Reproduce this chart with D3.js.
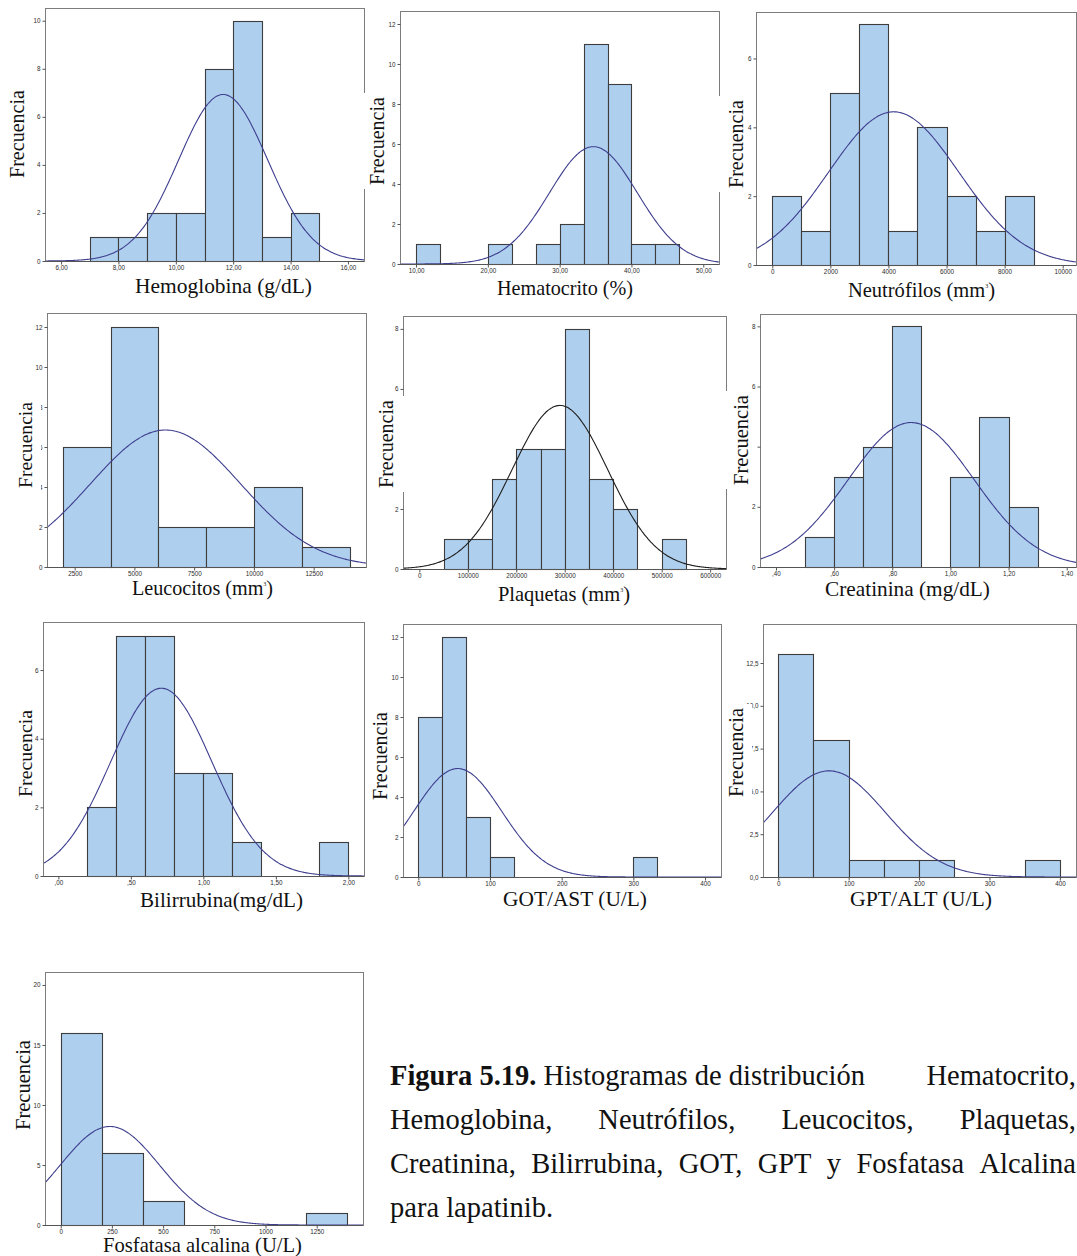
<!DOCTYPE html>
<html><head><meta charset="utf-8">
<script src="https://cdn.jsdelivr.net/npm/d3@7/dist/d3.min.js"></script>
<style>body{margin:0;background:#fff}svg{display:block}</style>
</head><body>
<svg id="c" width="1077" height="1256"></svg>
<script>
// ================= DATA =================
const axisTitles = ["Hemoglobina (g/dL)", "Hematocrito (%)", "Neutrófilos (mm", "Leucocitos (mm", "Plaquetas (mm",
  "Creatinina (mg/dL)", "Bilirrubina(mg/dL)", "GOT/AST (U/L)", "GPT/ALT (U/L)", "Fosfatasa alcalina (U/L)"];
const yTitle = "Frecuencia";

// histogram bins: first bin start, bin width, counts per bin (zero = empty bin)
const binStarts = [7, 10, 0, 2000, 50000, 0.5, 0.2, 0, 0, 0];
const binWidths = [1, 3.3333, 1000, 2000, 50000, 0.1, 0.2, 33.333, 50, 200];
const hemoglobinaCounts = [1, 1, 2, 2, 8, 10, 1, 2];
const hematocritoCounts = [1, 0, 0, 1, 0, 1, 2, 11, 9, 1, 1];
const neutrofilosCounts = [2, 1, 5, 7, 1, 4, 2, 1, 2];
const leucocitosCounts = [6, 12, 2, 2, 4, 1];
const plaquetasCounts = [1, 1, 3, 4, 4, 8, 3, 2, 0, 1];
const creatininaCounts = [1, 3, 4, 8, 0, 3, 5, 2];
const bilirrubinaCounts = [2, 7, 7, 3, 3, 1, 0, 0, 1];
const gotCounts = [8, 12, 3, 1, 0, 0, 0, 0, 0, 1];
const gptCounts = [13, 8, 1, 1, 1, 0, 0, 1];
const fosfatasaCounts = [16, 6, 2, 0, 0, 0, 1];

// fitted normal curves (mean, sd)
const curveMeans = [11.65, 34.7, 4180, 6300, 290000, 0.865, 0.71, 55, 72, 240];
const curveSDs = [1.554, 6.12, 2241, 3145, 98800, 0.216, 0.35, 61.3, 80.4, 243];

// ticks
const hbXTicks = [6, 8, 10, 12, 14, 16], hbXLabels = ["6,00", "8,00", "10,00", "12,00", "14,00", "16,00"];
const htXTicks = [10, 20, 30, 40, 50], htXLabels = ["10,00", "20,00", "30,00", "40,00", "50,00"];
const neXTicks = [0, 2000, 4000, 6000, 8000, 10000], neXLabels = ["0", "2000", "4000", "6000", "8000", "10000"];
const leXTicks = [2500, 5000, 7500, 10000, 12500], leXLabels = ["2500", "5000", "7500", "10000", "12500"];
const plXTicks = [0, 100000, 200000, 300000, 400000, 500000, 600000], plXLabels = ["0", "100000", "200000", "300000", "400000", "500000", "600000"];
const crXTicks = [0.4, 0.6, 0.8, 1.0, 1.2, 1.4], crXLabels = [",40", ",60", ",80", "1,00", "1,20", "1,40"];
const biXTicks = [0, 0.5, 1, 1.5, 2], biXLabels = [",00", ",50", "1,00", "1,50", "2,00"];
const goXTicks = [0, 100, 200, 300, 400], goXLabels = ["0", "100", "200", "300", "400"];
const gpXTicks = [0, 100, 200, 300, 400], gpXLabels = ["0", "100", "200", "300", "400"];
const foXTicks = [0, 250, 500, 750, 1000, 1250], foXLabels = ["0", "250", "500", "750", "1000", "1250"];

const yTicks0to10 = [0, 2, 4, 6, 8, 10], yLabels0to10 = ["0", "2", "4", "6", "8", "10"];
const yTicks0to12 = [0, 2, 4, 6, 8, 10, 12], yLabels0to12 = ["0", "2", "4", "6", "8", "10", "12"];
const yTicks0to6 = [0, 2, 4, 6], yLabels0to6 = ["0", "2", "4", "6"];
const yTicks0to8 = [0, 2, 4, 6, 8], yLabels0to8 = ["0", "2", "4", "6", "8"];
const gpYTicks = [0, 2.5, 5, 7.5, 10, 12.5], gpYLabels = ["0,0", "2,5", "5,0", "7,5", "10,0", "12,5"];
const foYTicks = [0, 5, 10, 15, 20], foYLabels = ["0", "5", "10", "15", "20"];

const captionLine1Bold = "Figura 5.19.";
const captionLine1Rest = "Histogramas de distribución";
const captionLine1End = "Hematocrito,";
const captionLine2 = ["Hemoglobina,", "Neutrófilos,", "Leucocitos,", "Plaquetas,"];
const captionLine3 = ["Creatinina,", "Bilirrubina,", "GOT,", "GPT", "y", "Fosfatasa", "Alcalina"];
const captionLine4 = "para lapatinib.";

// ================= LAYOUT =================
const countsList = [hemoglobinaCounts, hematocritoCounts, neutrofilosCounts, leucocitosCounts, plaquetasCounts,
  creatininaCounts, bilirrubinaCounts, gotCounts, gptCounts, fosfatasaCounts];
const xTickSets = [[hbXTicks, hbXLabels], [htXTicks, htXLabels], [neXTicks, neXLabels], [leXTicks, leXLabels], [plXTicks, plXLabels],
  [crXTicks, crXLabels], [biXTicks, biXLabels], [goXTicks, goXLabels], [gpXTicks, gpXLabels], [foXTicks, foXLabels]];
const yTickSets = [[yTicks0to10, yLabels0to10], [yTicks0to12, yLabels0to12], [yTicks0to6, yLabels0to6], [yTicks0to12, yLabels0to12],
  [yTicks0to8, yLabels0to8], [yTicks0to8, yLabels0to8], [yTicks0to6, yLabels0to6], [yTicks0to12, yLabels0to12], [gpYTicks, gpYLabels], [foYTicks, foYLabels]];
const superscript = [false, false, true, true, true, false, false, false, false, false];

// frame, axis domain, x label box, y label placement, white box behind y label
const layout = [
  {L:45, T:8, R:364, B:261, xd:[5.44, 16.56], yTop:10.53, xl:[135, 312, 293], yl:[24, 90, 178], box:[4, 27]},
  {L:400, T:11, R:719, B:264, xd:[7.77, 52.19], yTop:12.65, xl:[497, 633, 295], yl:[384, 97, 185], box:[358, 388]},
  {L:756, T:12, R:1076, B:265, xd:[-561, 10458], yTop:7.35, xl:[848, 995, 297], yl:[743, 100, 188], box:[714, 744]},
  {L:47, T:313, R:366, B:567, xd:[1343, 14690], yTop:12.7, xl:[132, 273, 595], yl:[32, 402, 488], box:[8, 41]},
  {L:403, T:316, R:726, B:569, xd:[-33700, 632700], yTop:8.43, xl:[498, 630, 601], yl:[393, 400, 488], box:[370, 406]},
  {L:760, T:314, R:1076, B:567, xd:[0.345, 1.432], yTop:8.41, xl:[825, 990, 596], yl:[748, 395, 485], box:[724, 756]},
  {L:43, T:622, R:364, B:876, xd:[-0.106, 2.108], yTop:7.40, xl:[140, 303, 907], yl:[32, 710, 797], box:[10, 35]},
  {L:403, T:624, R:721, B:877, xd:[-21.4, 422.3], yTop:12.65, xl:[503, 647, 906], yl:[387, 712, 800], box:[365, 390]},
  {L:763, T:624, R:1076, B:877, xd:[-21.7, 422.9], yTop:14.78, xl:[850, 992, 906], yl:[743, 708, 797], box:[722, 752]},
  {L:45, T:972, R:363, B:1225, xd:[-76.6, 1476], yTop:21.08, xl:[103, 302, 1252], yl:[30, 1040, 1130], box:[8, 33]}
];

const svg = d3.select("#c");
const serif = "'Liberation Serif', 'Times New Roman', serif";
const sans = "'Liberation Sans', Arial, sans-serif";
const barFill = "#aecfee", barStroke = "#3d3d3d", frameColor = "#7d7d7d";

const defs = svg.append("defs");

layout.forEach((p, i) => {
  const g = svg.append("g");
  const x = d3.scaleLinear().domain(p.xd).range([p.L, p.R]);
  const y = d3.scaleLinear().domain([0, p.yTop]).range([p.B, p.T]);
  const counts = countsList[i];
  const bins = counts.map((c, k) => ({x0: binStarts[i] + k * binWidths[i], x1: binStarts[i] + (k + 1) * binWidths[i], c}))
    .filter(d => d.c > 0);

  g.selectAll("rect.bar").data(bins).join("rect").attr("class", "bar")
    .attr("x", d => Math.round(x(d.x0)) + 0.5).attr("y", d => Math.round(y(d.c)) + 0.5)
    .attr("width", d => Math.round(x(d.x1)) - Math.round(x(d.x0)))
    .attr("height", d => Math.round(y(0)) - Math.round(y(d.c)))
    .attr("fill", barFill).attr("stroke", barStroke).attr("stroke-width", 1.1);

  // normal curve
  defs.append("clipPath").attr("id", "clip" + i).append("rect")
    .attr("x", p.L).attr("y", p.T).attr("width", p.R - p.L).attr("height", p.B - p.T);
  const n = d3.sum(counts), m = curveMeans[i], s = curveSDs[i], bw = binWidths[i];
  const xs = d3.range(0, 241).map(k => p.xd[0] + (p.xd[1] - p.xd[0]) * k / 240);
  const line = d3.line().x(v => x(v)).y(v => y(n * bw / (s * Math.sqrt(2 * Math.PI)) * Math.exp(-0.5 * ((v - m) / s) ** 2)))
    .curve(d3.curveBasis);
  g.append("path").attr("d", line(xs)).attr("fill", "none")
    .attr("stroke", i === 4 ? "#1e1e1e" : "#3e3e8e").attr("stroke-width", 1.1)
    .attr("clip-path", "url(#clip" + i + ")");

  // frame
  g.append("rect").attr("x", p.L + 0.5).attr("y", p.T + 0.5).attr("width", p.R - p.L).attr("height", p.B - p.T)
    .attr("fill", "none").attr("stroke", frameColor).attr("stroke-width", 1);
  g.append("line").attr("x1", p.L).attr("x2", p.R).attr("y1", p.B + 0.5).attr("y2", p.B + 0.5)
    .attr("stroke", "#555").attr("stroke-width", 1.2);

  // axes
  const [xt, xlab] = xTickSets[i];
  const ax = d3.axisBottom(x).tickValues(xt).tickFormat((d, k) => xlab[k]).tickSize(3).tickPadding(1.5);
  const gx = g.append("g").attr("transform", `translate(0,${p.B + 0.5})`).call(ax);
  const [yt, ylab] = yTickSets[i];
  const ay = d3.axisLeft(y).tickValues(yt).tickFormat((d, k) => ylab[k]).tickSize(3).tickPadding(2);
  const gy = g.append("g").attr("transform", `translate(${p.L + 0.5},0)`).call(ay);
  [gx, gy].forEach(a => {
    a.select(".domain").remove();
    a.selectAll(".tick line").attr("stroke", "#555");
    a.selectAll(".tick text").attr("font-family", sans).attr("font-size", 6.3).attr("fill", "#2a2a2a");
  });

  // x title
  const [xa, xb, xy] = p.xl;
  const t = g.append("text").attr("x", (xa + xb) / 2).attr("y", xy).attr("text-anchor", "middle")
    .attr("font-family", serif).attr("font-size", 22).attr("fill", "#111");
  t.append("tspan").text(axisTitles[i]);
  if (superscript[i]) {
    t.append("tspan").attr("font-size", 6).attr("dy", -9).text("3");
    t.append("tspan").attr("dy", 9).text(")");
  }
  const w = t.node().getBBox().width;
  t.attr("font-size", 22 * (xb - xa) / w);
});

// y titles with white background boxes (drawn on top, as in the source)
layout.forEach((p, i) => {
  const [bx, y0, y1] = p.yl;
  svg.append("rect").attr("x", p.box[0]).attr("y", y0 - 4).attr("width", p.box[1] - p.box[0]).attr("height", y1 - y0 + 8)
    .attr("fill", "#fff");
  const t = svg.append("text").attr("transform", `translate(${bx},${(y0 + y1) / 2}) rotate(-90)`)
    .attr("text-anchor", "middle").attr("font-family", serif).attr("font-size", 21).attr("fill", "#111").text(yTitle);
  const w = t.node().getComputedTextLength();
  t.attr("font-size", 21 * (y1 - y0) / w);
});

// caption
const capSize = 28.5;
const cap = svg.append("g").attr("font-family", serif).attr("font-size", capSize).attr("fill", "#111");
const capX0 = 390, capX1 = 1076, capY = [1085, 1129, 1173, 1217];
const l1 = cap.append("text").attr("x", capX0).attr("y", capY[0]);
l1.append("tspan").attr("font-weight", "bold").text(captionLine1Bold);
l1.append("tspan").text(" " + captionLine1Rest);
cap.append("text").attr("x", capX1).attr("y", capY[0]).attr("text-anchor", "end").text(captionLine1End);
function justify(words, yy) {
  const nodes = words.map(wd => cap.append("text").attr("y", yy).text(wd));
  const widths = nodes.map(nd => nd.node().getComputedTextLength());
  const gap = (capX1 - capX0 - d3.sum(widths)) / (words.length - 1);
  let cx = capX0;
  nodes.forEach((nd, k) => { nd.attr("x", cx); cx += widths[k] + gap; });
}
justify(captionLine2, capY[1]);
justify(captionLine3, capY[2]);
cap.append("text").attr("x", capX0).attr("y", capY[3]).text(captionLine4);
</script>
</body></html>
